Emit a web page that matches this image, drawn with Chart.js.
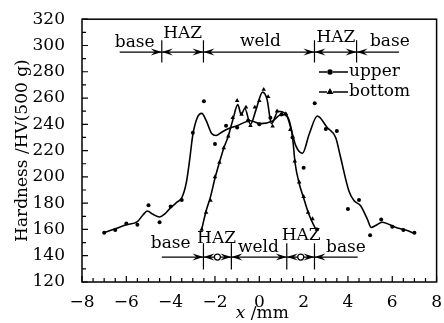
<!DOCTYPE html>
<html>
<head>
<meta charset="utf-8">
<script src="https://cdn.jsdelivr.net/npm/chart.js"></script>
<style>
  html, body { margin: 0; padding: 0; background: #fff; }
  #wrap { width: 444px; height: 323px; }
</style>
</head>
<body>
<div id="wrap"><canvas id="chart" width="444" height="323"></canvas></div>
<script>
// measured points, upper surface (dots) and bottom surface (triangles)
const upperX = [-7, -6.5, -6, -5.5, -5, -4.5, -4, -3.5, -3, -2.5, -2, -1.5, -1, -0.5, 0, 0.5, 1, 1.5, 2, 2.5, 3, 3.5, 4, 4.5, 5, 5.5, 6, 6.5, 7];
const upperHV = [157.5, 159.5, 164.5, 163.5, 178.5, 165.5, 177.5, 182.5, 233.5, 257.5, 225, 239, 237.5, 243, 240, 245, 247.5, 230, 207, 256, 236.5, 235, 175.5, 182.5, 155.5, 167.5, 162, 159.5, 157.5];

const bottomX = [-2.6, -2.4, -2.2, -2, -1.8, -1.6, -1.4, -1.2, -1, -0.8, -0.6, -0.4, -0.2, 0, 0.2, 0.4, 0.6, 0.8, 1, 1.2, 1.4, 1.6, 1.8, 2, 2.2, 2.4, 2.6];
const bottomHV = [160, 173, 182, 200, 211, 222, 231, 245, 258, 247.5, 253, 239, 253, 258, 266.5, 261, 238.5, 250, 247.5, 248, 236, 212, 196, 185, 173, 168, 160];

// smoothed curves as drawn in the figure
const upperFitX = [-7, -6.5, -6, -5.5, -5.25, -5.05, -4.8, -4.5, -4.25, -4, -3.7, -3.5, -3.3, -3.15, -3, -2.8, -2.6, -2.4, -2.15, -1.95, -1.7, -1.4, -1, -0.4, 0.05, 0.6, 1, 1.24, 1.42, 1.65, 1.95, 2.25, 2.62, 3.07, 3.45, 3.67, 4.04, 4.27, 4.57, 4.87, 5.05, 5.25, 5.54, 6.14, 6.6, 7];
const upperFitHV = [157.5, 160.5, 163.5, 166, 171, 174, 171.5, 169.5, 172, 176.5, 181, 184, 195, 212, 232, 245, 248.3, 243, 233, 231.5, 234, 236.7, 239, 242.7, 240.5, 242.5, 247.5, 246.3, 237.4, 223.6, 218, 232.4, 246.3, 237.4, 229.8, 214.7, 189.5, 182, 178, 168, 161.5, 163, 165.5, 161.7, 159.5, 157];

const bottomFitX = [-2.6, -2.4, -2.2, -2, -1.8, -1.6, -1.4, -1.2, -0.97, -0.82, -0.65, -0.4, -0.15, 0.15, 0.35, 0.55, 0.85, 1.15, 1.35, 1.5, 1.62, 1.8, 2, 2.25, 2.55];
const bottomFitHV = [160, 174, 185, 199, 211, 222, 231, 243, 255, 247.5, 252, 240, 251, 264.5, 259, 240.5, 250, 248.5, 243, 230, 210, 195, 184, 171, 160];

const xTicks = [-8, -6, -4, -2, 0, 2, 4, 6, 8];
const yTicks = [120, 140, 160, 180, 200, 220, 240, 260, 280, 300, 320];

const FONT = '"DejaVu Serif", serif';

const pts = (xs, ys) => xs.map((x, i) => ({ x, y: ys[i] }));

// zone markers (data units)
const zoneRows = [
  { y: 295, tickY: [287, 304], ends: [-6.3, 6.3], cuts: [-4.4, -2.52, 2.49, 4.39], rings: [] },
  { y: 139, tickY: [129.5, 149.5], ends: [-4.4, 4.44], cuts: [-2.52, -1.26, 1.24, 2.49], rings: [-1.89, 1.87] }
];
const zoneLabels = [
  { text: 'base', x: -5.62, y: 298.6 },
  { text: 'HAZ', x: -3.46, y: 305.8 },
  { text: 'weld', x: 0.05, y: 299.3 },
  { text: 'HAZ', x: 3.46, y: 302.3 },
  { text: 'base', x: 5.89, y: 299.3 },
  { text: 'base', x: -4.0, y: 145.5 },
  { text: 'HAZ', x: -1.93, y: 150 },
  { text: 'weld', x: -0.04, y: 142.5 },
  { text: 'HAZ', x: 1.89, y: 151.6 },
  { text: 'base', x: 3.91, y: 142.5 }
];

function arrowHead(ctx, px, py, dir) {
  ctx.beginPath();
  ctx.moveTo(px, py);
  ctx.lineTo(px - dir * 11, py - 3.5);
  ctx.lineTo(px - dir * 7, py);
  ctx.lineTo(px - dir * 11, py + 3.5);
  ctx.closePath();
  ctx.fill();
}

const decor = {
  id: 'decor',
  afterDraw(chart) {
    const { ctx, chartArea: a, scales: { x, y } } = chart;
    ctx.save();
    ctx.strokeStyle = '#000';
    ctx.fillStyle = '#000';

    // frame
    ctx.lineWidth = 1.5;
    ctx.strokeRect(a.left, a.top, a.right - a.left, a.bottom - a.top);

    // inward ticks
    ctx.lineWidth = 1.2;
    ctx.beginPath();
    for (let v = -8; v <= 8; v += 0.5) {
      const px = x.getPixelForValue(v);
      const len = v % 2 === 0 ? 6 : 4;
      ctx.moveTo(px, a.bottom);
      ctx.lineTo(px, a.bottom - len);
    }
    for (let v = 120; v <= 320; v += 10) {
      const py = y.getPixelForValue(v);
      const len = v % 20 === 0 ? 6 : 4;
      ctx.moveTo(a.left, py);
      ctx.lineTo(a.left + len, py);
    }
    ctx.stroke();

    // zone arrows
    zoneRows.forEach(r => {
      const py = y.getPixelForValue(r.y);
      ctx.lineWidth = 1.2;
      ctx.beginPath();
      ctx.moveTo(x.getPixelForValue(r.ends[0]), py);
      ctx.lineTo(x.getPixelForValue(r.ends[1]), py);
      r.cuts.forEach(c => {
        const px = x.getPixelForValue(c);
        ctx.moveTo(px, y.getPixelForValue(r.tickY[0]));
        ctx.lineTo(px, y.getPixelForValue(r.tickY[1]));
      });
      ctx.stroke();
      r.cuts.forEach(c => {
        const px = x.getPixelForValue(c);
        arrowHead(ctx, px, py, 1);
        arrowHead(ctx, px, py, -1);
      });
      r.rings.forEach(c => {
        ctx.beginPath();
        ctx.fillStyle = '#fff';
        ctx.arc(x.getPixelForValue(c), py, 3, 0, Math.PI * 2);
        ctx.fill();
        ctx.stroke();
        ctx.fillStyle = '#000';
      });
    });

    ctx.font = '17px ' + FONT;
    ctx.textAlign = 'center';
    ctx.textBaseline = 'alphabetic';
    zoneLabels.forEach(l => {
      ctx.fillText(l.text, x.getPixelForValue(l.x), y.getPixelForValue(l.y));
    });

    // legend
    const lx = 319, items = [
      { label: 'upper', y: 72, style: 'circle', r: 2 },
      { label: 'bottom', y: 92, style: 'triangle', r: 2.5 }
    ];
    items.forEach(it => {
      ctx.lineWidth = 1.5;
      ctx.beginPath();
      ctx.moveTo(lx, it.y); ctx.lineTo(lx + 8, it.y);
      ctx.moveTo(lx + 14, it.y); ctx.lineTo(lx + 29, it.y);
      ctx.stroke();
      Chart.helpers.drawPoint(ctx, { pointStyle: it.style, radius: it.r, borderWidth: 1 }, lx + 11, it.y);
      ctx.fill();
      ctx.textAlign = 'left';
      ctx.textBaseline = 'middle';
      ctx.fillText(it.label, lx + 30, it.y);
    });

    // x axis title with italic x
    ctx.textBaseline = 'alphabetic';
    ctx.textAlign = 'left';
    const ital = 'italic 17px ' + FONT, norm = '17px ' + FONT;
    ctx.font = ital; const w1 = ctx.measureText('x').width;
    ctx.font = norm; const w2 = ctx.measureText(' /mm').width;
    const sx = (a.left + a.right) / 2 + 3 - (w1 + w2) / 2;
    ctx.font = ital; ctx.fillText('x', sx, 318);
    ctx.font = norm; ctx.fillText(' /mm', sx + w1, 318);
    ctx.restore();
  }
};

new Chart(document.getElementById('chart'), {
  type: 'scatter',
  data: {
    datasets: [
      { data: pts(upperFitX, upperFitHV), showLine: true, pointRadius: 0, borderColor: '#000', borderWidth: 1.6, cubicInterpolationMode: 'monotone' },
      { data: pts(bottomFitX, bottomFitHV), showLine: true, pointRadius: 0, borderColor: '#000', borderWidth: 1.6, cubicInterpolationMode: 'monotone' },
      { data: pts(upperX, upperHV), pointStyle: 'circle', pointRadius: 2, backgroundColor: '#000', borderColor: '#000', borderWidth: 0 },
      { data: pts(bottomX, bottomHV), pointStyle: 'triangle', pointRadius: 2.6, backgroundColor: '#000', borderColor: '#000', borderWidth: 0 }
    ]
  },
  options: {
    responsive: false,
    animation: false,
    devicePixelRatio: 1,
    layout: { padding: { top: 18, right: 6, left: 0, bottom: 0 } },
    plugins: { legend: { display: false }, tooltip: { enabled: false } },
    scales: {
      x: {
        type: 'linear', min: -8, max: 8,
        afterBuildTicks: s => { s.ticks = xTicks.map(v => ({ value: v })); },
        afterFit: s => { s.height = 41; },
        grid: { display: false },
        border: { display: false },
        ticks: {
          color: '#000', padding: 2, maxRotation: 0, autoSkip: false,
          font: { family: FONT, size: 17 },
          callback: v => String(v).replace('-', '\u2212')
        }
      },
      y: {
        min: 120, max: 320,
        afterBuildTicks: s => { s.ticks = yTicks.map(v => ({ value: v })); },
        afterFit: s => { s.width = 82; },
        grid: { display: false },
        border: { display: false },
        ticks: { color: '#000', padding: 9, font: { family: FONT, size: 17 } },
        title: {
          display: true, text: 'Hardness /HV(500 g)', color: '#000',
          font: { family: FONT, size: 17 }, padding: { top: 12, bottom: 0 }
        }
      }
    }
  },
  plugins: [decor]
});
</script>
</body>
</html>
